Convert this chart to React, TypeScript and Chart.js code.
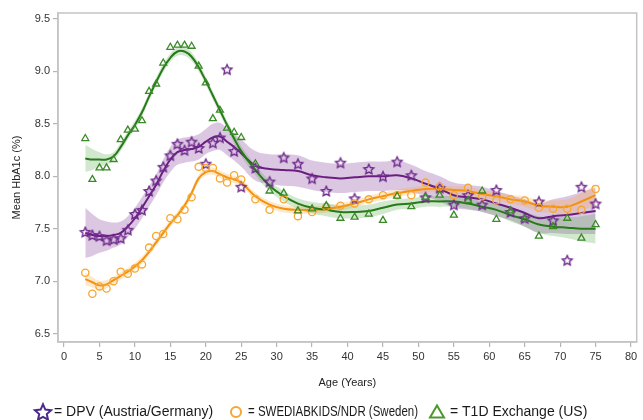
import React, { useEffect, useRef } from "react";
import { Chart, registerables } from "chart.js";

Chart.register(...registerables);

// Age groups (years): yearly up to 25, then every second year
const ages = [
  3, 4, 5, 6, 7, 8, 9, 10, 11, 12, 13, 14, 15, 16, 17, 18, 19, 20, 21, 22, 23, 24, 25,
  27, 29, 31, 33, 35, 37, 39, 41, 43, 45, 47, 49, 51, 53, 55, 57, 59, 61, 63, 65, 67, 69, 71, 73, 75,
];

// Observed mean HbA1c (%) per age group
const dpvMeans = [
  7.47, 7.44, 7.43, 7.39, 7.40, 7.41, 7.49, 7.64, 7.68, 7.86, 7.96, 8.09, 8.20, 8.31, 8.25, 8.33, 8.27, 8.12, 8.32, 8.37, 9.02, 8.24, 7.90,
  8.08, 7.95, 8.18, 8.12, 7.98, 7.86, 8.13, 7.79, 8.07, 8.00, 8.14, 8.01, 7.80, 7.89, 7.73, 7.82, 7.73, 7.87, 7.66, 7.60, 7.76, 7.58, 7.20, 7.90, 7.74,
];
const swediabMeans = [
  7.08, 6.88, 6.95, 6.93, 7.00, 7.09, 7.07, 7.12, 7.16, 7.32, 7.43, 7.45, 7.60, 7.59, 7.68, 7.80, 8.09, 8.08, 8.08, 7.98, 7.94, 8.01, 7.97,
  7.78, 7.68, 7.78, 7.62, 7.66, 7.71, 7.72, 7.74, 7.78, 7.82, 7.82, 7.82, 7.94, 7.90, 7.82, 7.89, 7.81, 7.77, 7.78, 7.77, 7.70, 7.69, 7.69, 7.68, 7.88,
];
const t1dMeans = [
  8.36, 7.97, 8.08, 8.08, 8.16, 8.35, 8.44, 8.45, 8.53, 8.81, 8.88, 9.08, 9.23, 9.25, 9.25, 9.24, 9.05, 8.89, 8.55, 8.63, 8.46, 8.42, 8.37,
  8.12, 7.86, 7.84, 7.67, 7.69, 7.72, 7.60, 7.61, 7.64, 7.58, 7.81, 7.71, 7.80, 7.82, 7.63, 7.77, 7.86, 7.59, 7.67, 7.59, 7.43, 7.52, 7.60, 7.41, 7.54,
];

// Smoothed trend per registry
const dpvFit = [
  7.46, 7.44, 7.43, 7.43, 7.44, 7.46, 7.52, 7.60, 7.70, 7.81, 7.92, 8.05, 8.16, 8.23, 8.25, 8.26, 8.28, 8.33, 8.37, 8.38, 8.33, 8.28, 8.22,
  8.10, 8.07, 8.06, 8.05, 8.01, 7.99, 7.98, 7.99, 8.00, 8.00, 8.01, 7.98, 7.93, 7.88, 7.82, 7.80, 7.78, 7.74, 7.70, 7.65, 7.60, 7.62, 7.63, 7.65, 7.67,
];
const swediabFit = [
  7.02, 6.99, 6.96, 6.97, 7.01, 7.05, 7.09, 7.14, 7.20, 7.28, 7.37, 7.46, 7.55, 7.63, 7.72, 7.84, 7.98, 8.04, 8.05, 8.02, 7.99, 7.97, 7.94,
  7.81, 7.73, 7.69, 7.68, 7.68, 7.69, 7.71, 7.74, 7.78, 7.81, 7.84, 7.86, 7.88, 7.88, 7.87, 7.86, 7.83, 7.81, 7.78, 7.76, 7.72, 7.71, 7.71, 7.76, 7.82,
];
const t1dFit = [
  8.17, 8.16, 8.16, 8.16, 8.19, 8.28, 8.39, 8.49, 8.61, 8.76, 8.90, 9.03, 9.13, 9.19, 9.19, 9.14, 9.04, 8.91, 8.77, 8.63, 8.49, 8.36, 8.24,
  8.06, 7.91, 7.81, 7.74, 7.70, 7.68, 7.66, 7.66, 7.67, 7.70, 7.73, 7.74, 7.76, 7.76, 7.76, 7.74, 7.71, 7.68, 7.63, 7.59, 7.54, 7.52, 7.51, 7.50, 7.50,
];

// Half-width of the confidence band around each trend
const dpvBand = [
  0.24, 0.20, 0.16, 0.14, 0.12, 0.11, 0.10, 0.10, 0.10, 0.10, 0.10, 0.11, 0.12, 0.12, 0.12, 0.12, 0.12, 0.12, 0.13, 0.13, 0.13, 0.13, 0.13,
  0.14, 0.14, 0.15, 0.15, 0.14, 0.14, 0.14, 0.14, 0.14, 0.14, 0.14, 0.13, 0.12, 0.12, 0.12, 0.12, 0.12, 0.12, 0.12, 0.13, 0.14, 0.16, 0.18, 0.20, 0.22,
];
const swediabBand = [
  0.06, 0.05, 0.045, 0.04, 0.035, 0.035, 0.035, 0.035, 0.035, 0.035, 0.035, 0.035, 0.035, 0.035, 0.035, 0.035, 0.035, 0.035, 0.035, 0.035, 0.035, 0.035, 0.035,
  0.035, 0.035, 0.035, 0.035, 0.035, 0.035, 0.035, 0.035, 0.035, 0.035, 0.035, 0.035, 0.035, 0.035, 0.035, 0.04, 0.04, 0.04, 0.045, 0.05, 0.055, 0.06, 0.07, 0.08, 0.10,
];
const t1dBand = [
  0.13, 0.10, 0.07, 0.05, 0.04, 0.04, 0.04, 0.04, 0.04, 0.04, 0.04, 0.04, 0.04, 0.04, 0.04, 0.04, 0.04, 0.04, 0.04, 0.04, 0.04, 0.045, 0.05,
  0.05, 0.05, 0.05, 0.05, 0.055, 0.06, 0.06, 0.06, 0.06, 0.06, 0.05, 0.05, 0.05, 0.05, 0.05, 0.05, 0.05, 0.055, 0.06, 0.07, 0.08, 0.09, 0.10, 0.12, 0.14,
];

const xTicks = [0, 5, 10, 15, 20, 25, 30, 35, 40, 45, 50, 55, 60, 65, 70, 75, 80];
const yTicks = [6.5, 7.0, 7.5, 8.0, 8.5, 9.0, 9.5];

const xTitle = "Age (Years)";
const yTitle = "Mean HbA1c (%)";
const keyLabels = ["= DPV (Austria/Germany)", "= SWEDIABKIDS/NDR (Sweden)", "= T1D Exchange (US)"];

const PURPLE = "#6a1f80";
const PURPLE_MARK = "#6e2a8c";
const PURPLE_KEY = "#4b2a8a";
const PURPLE_BAND = "rgba(140, 70, 160, 0.30)";
const ORANGE = "#f2920f";
const ORANGE_MARK = "#f7a630";
const ORANGE_BAND = "rgba(250, 165, 50, 0.26)";
const GREEN = "#267a1a";
const GREEN_MARK = "#3a8a28";
const GREEN_KEY = "#4a9a2a";
const GREEN_BAND = "rgba(70, 160, 60, 0.25)";
const FRAME = "#c4c4c4";
const FONT = "'Liberation Sans', Arial, sans-serif";

const toPoints = (ys: number[]) => ages.map((x, i) => ({ x, y: ys[i] }));
const shifted = (fit: number[], band: number[], sign: number) =>
  ages.map((x, i) => ({ x, y: fit[i] + sign * band[i] }));

function starPath(ctx: CanvasRenderingContext2D, cx: number, cy: number, outer: number, inner: number) {
  ctx.beginPath();
  for (let k = 0; k < 10; k++) {
    const r = k % 2 === 0 ? outer : inner;
    const a = -Math.PI / 2 + (k * Math.PI) / 5;
    const px = cx + r * Math.cos(a);
    const py = cy + r * Math.sin(a);
    if (k === 0) ctx.moveTo(px, py);
    else ctx.lineTo(px, py);
  }
  ctx.closePath();
}

function starImage(outer: number, color: string, lw: number) {
  const size = Math.ceil(outer * 2 + lw * 2 + 2);
  const c = document.createElement("canvas");
  c.width = size;
  c.height = size;
  const g = c.getContext("2d")!;
  starPath(g, size / 2, size / 2 + outer * 0.1, outer, outer * 0.48);
  g.strokeStyle = color;
  g.lineWidth = lw;
  g.lineJoin = "miter";
  g.stroke();
  return c;
}

// Grey frame around the plot area
const framePlugin = {
  id: "plotFrame",
  beforeDatasetsDraw(chart: any) {
    const { ctx, chartArea } = chart;
    ctx.save();
    ctx.strokeStyle = FRAME;
    ctx.lineWidth = 1.5;
    ctx.strokeRect(chartArea.left, chartArea.top, chartArea.right - chartArea.left, chartArea.bottom - chartArea.top);
    ctx.restore();
  },
};

// Marker key drawn under the axis title
const keyPlugin = {
  id: "markerKey",
  afterDraw(chart: any) {
    const ctx: CanvasRenderingContext2D = chart.ctx;
    const y = 412;
    ctx.save();
    // star
    starPath(ctx, 43, y + 0.8, 8.5, 4.0);
    ctx.strokeStyle = PURPLE_KEY;
    ctx.lineWidth = 2;
    ctx.stroke();
    // circle
    ctx.beginPath();
    ctx.arc(236, y, 5, 0, Math.PI * 2);
    ctx.strokeStyle = ORANGE_MARK;
    ctx.lineWidth = 2;
    ctx.stroke();
    // triangle
    ctx.beginPath();
    ctx.moveTo(437, y - 6.5);
    ctx.lineTo(444, y + 5.5);
    ctx.lineTo(430, y + 5.5);
    ctx.closePath();
    ctx.strokeStyle = GREEN_KEY;
    ctx.lineWidth = 2;
    ctx.stroke();

    // left edge and available width of each key text
    const spans = [
      [54, 164],
      [248, 170],
      [450, 178],
    ];
    ctx.fillStyle = "#1a1a1a";
    ctx.font = `14px ${FONT}`;
    ctx.textBaseline = "middle";
    ctx.textAlign = "left";
    keyLabels.forEach((t, i) => {
      const natural = ctx.measureText(t).width;
      const k = Math.min(1, spans[i][1] / natural);
      ctx.save();
      ctx.translate(spans[i][0], y);
      ctx.scale(k, 1);
      ctx.fillText(t, 0, 0);
      ctx.restore();
    });
    ctx.restore();
  },
};

export default function App() {
  const ref = useRef<HTMLCanvasElement | null>(null);

  useEffect(() => {
    if (!ref.current) return;
    const star = starImage(5.2, PURPLE_MARK, 1.4);

    const band = (fit: number[], w: number[], color: string) => [
      {
        data: shifted(fit, w, 1),
        borderWidth: 0,
        pointRadius: 0,
        tension: 0.4,
        fill: false,
        order: 5,
      },
      {
        data: shifted(fit, w, -1),
        borderWidth: 0,
        pointRadius: 0,
        tension: 0.4,
        fill: "-1",
        backgroundColor: color,
        order: 5,
      },
    ];
    const trend = (fit: number[], color: string) => ({
      data: toPoints(fit),
      borderColor: color,
      borderWidth: 2,
      pointRadius: 0,
      tension: 0.4,
      fill: false,
      order: 2,
    });
    const marks = (vals: number[], style: any, color: string, radius: number) => ({
      data: toPoints(vals),
      showLine: false,
      pointStyle: style,
      pointRadius: radius,
      pointBorderColor: color,
      pointBackgroundColor: "rgba(255,255,255,0)",
      pointBorderWidth: 1.3,
      order: 1,
    });

    const chart = new Chart(ref.current, {
      type: "line",
      data: {
        datasets: [
          ...band(t1dFit, t1dBand, GREEN_BAND),
          ...band(swediabFit, swediabBand, ORANGE_BAND),
          ...band(dpvFit, dpvBand, PURPLE_BAND),
          trend(t1dFit, GREEN),
          trend(swediabFit, ORANGE),
          trend(dpvFit, PURPLE),
          marks(t1dMeans, "triangle", GREEN_MARK, 4),
          marks(swediabMeans, "circle", ORANGE_MARK, 3.6),
          marks(dpvMeans, star, PURPLE_MARK, 5),
        ] as any,
      },
      options: {
        responsive: false,
        animation: false,
        layout: { padding: { top: 13, right: 1, bottom: 30, left: 0 } },
        plugins: {
          legend: { display: false },
          tooltip: { enabled: false },
        },
        scales: {
          x: {
            type: "linear",
            min: -0.85,
            max: 80.8,
            afterBuildTicks: (s: any) => {
              s.ticks = xTicks.map((v) => ({ value: v }));
            },
            afterFit: (s: any) => {
              s.height = 48;
            },
            ticks: {
              color: "#333",
              font: { family: FONT, size: 11 },
              padding: 3,
              maxRotation: 0,
              autoSkip: false,
              callback: (v: any) => String(v),
            },
            grid: { drawOnChartArea: false, tickLength: 5, color: "#b4b4b4", lineWidth: 1.2 },
            border: { color: FRAME, width: 1.5 },
            title: {
              display: true,
              text: xTitle,
              color: "#222",
              font: { family: FONT, size: 11 },
              padding: { top: 0, bottom: 0.5 },
            },
          },
          y: {
            type: "linear",
            min: 6.42,
            max: 9.557,
            afterBuildTicks: (s: any) => {
              s.ticks = yTicks.map((v) => ({ value: v }));
            },
            afterFit: (s: any) => {
              s.width = 58;
            },
            ticks: {
              color: "#333",
              font: { family: FONT, size: 11 },
              padding: 3,
              callback: (v: any) => Number(v).toFixed(1),
            },
            grid: { drawOnChartArea: false, tickLength: 5, color: "#b4b4b4", lineWidth: 1.2 },
            border: { color: FRAME, width: 1.5 },
            title: {
              display: true,
              text: yTitle,
              color: "#222",
              font: { family: FONT, size: 11 },
              padding: { top: 10.5, bottom: 0 },
            },
          },
        },
      },
      plugins: [framePlugin, keyPlugin],
    } as any);

    return () => chart.destroy();
  }, []);

  return (
    <div style={{ position: "fixed", left: 0, top: 0, width: 643, height: 420, background: "#fff" }}>
      <canvas ref={ref} width={643} height={420} style={{ display: "block" }} />
    </div>
  );
}
